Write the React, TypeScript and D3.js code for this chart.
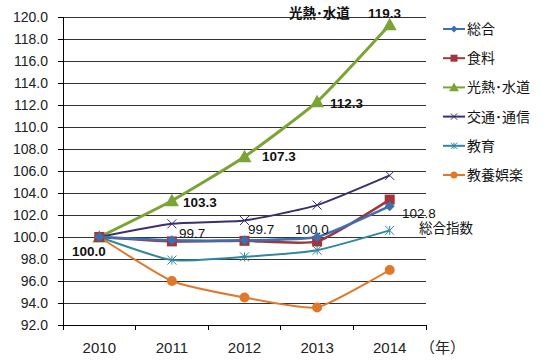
import React, { useEffect, useRef } from 'react';
import * as d3 from 'd3';

const years = ['2010', '2011', '2012', '2013', '2014'];
const yTicks = [92, 94, 96, 98, 100, 102, 104, 106, 108, 110, 112, 114, 116, 118, 120];

const sogo = [100.0, 99.7, 99.7, 100.0, 102.8];
const shokuryo = [100.0, 99.6, 99.65, 99.6, 103.4];
const kounetsu = [100.0, 103.3, 107.3, 112.3, 119.3];
const koutsu = [100.0, 101.2, 101.5, 102.9, 105.6];
const kyouiku = [100.0, 97.9, 98.2, 98.8, 100.6];
const kyouyou = [100.0, 96.0, 94.5, 93.6, 97.0];

const seriesNames = ['総合', '食料', '光熱･水道', '交通･通信', '教育', '教養娯楽'];

const FONT = '"Liberation Sans", Arial, "Noto Sans CJK JP", sans-serif';

type Series = { name: string; values: number[]; color: string; marker: string; width: number };

const series: Series[] = [
  { name: seriesNames[2], values: kounetsu, color: '#7aa534', marker: 'triangle', width: 3 },
  { name: seriesNames[3], values: koutsu, color: '#3d2f6e', marker: 'x', width: 2 },
  { name: seriesNames[4], values: kyouiku, color: '#2f889e', marker: 'star', width: 2 },
  { name: seriesNames[5], values: kyouyou, color: '#e0782c', marker: 'circle', width: 2 },
  { name: seriesNames[1], values: shokuryo, color: '#a2373a', marker: 'square', width: 2.5 },
  { name: seriesNames[0], values: sogo, color: '#3b70b3', marker: 'diamond', width: 2.5 },
];
const legendOrder = [5, 4, 0, 1, 2, 3];

function drawMarker(g: d3.Selection<SVGGElement, unknown, null, undefined>, type: string, x: number, y: number, color: string, scale = 1) {
  if (type === 'circle') {
    g.append('circle').attr('cx', x).attr('cy', y).attr('r', 5 * scale).attr('fill', color);
  } else if (type === 'square') {
    const s = 10 * scale;
    g.append('rect').attr('x', x - s / 2).attr('y', y - s / 2).attr('width', s).attr('height', s).attr('fill', color);
  } else if (type === 'diamond') {
    const s = 5 * scale;
    g.append('path').attr('d', `M${x},${y - s}L${x + s},${y}L${x},${y + s}L${x - s},${y}Z`).attr('fill', color);
  } else if (type === 'triangle') {
    const s = 7 * scale;
    g.append('path').attr('d', `M${x},${y - s}L${x + s},${y + s * 0.8}L${x - s},${y + s * 0.8}Z`).attr('fill', color);
  } else if (type === 'x') {
    const s = 4.5 * scale;
    g.append('path').attr('d', `M${x - s},${y - s}L${x + s},${y + s}M${x - s},${y + s}L${x + s},${y - s}`)
      .attr('stroke', color).attr('stroke-width', 1);
  } else if (type === 'star') {
    const s = 4.5 * scale;
    g.append('path').attr('d', `M${x - s},${y - s}L${x + s},${y + s}M${x - s},${y + s}L${x + s},${y - s}M${x},${y - s}L${x},${y + s}`)
      .attr('stroke', color).attr('stroke-width', 1);
  }
}

const App: React.FC = () => {
  const ref = useRef<SVGSVGElement>(null);

  useEffect(() => {
    if (!ref.current) return;
    const svg = d3.select(ref.current);
    svg.selectAll('*').remove();

    const margin = { top: 17, left: 63 };
    const width = 363;
    const height = 308;

    const g = svg.append('g').attr('transform', `translate(${margin.left},${margin.top})`);

    const x = d3.scaleBand().domain(years).range([0, width]);
    const y = d3.scaleLinear().domain([92, 120]).range([height, 0]);
    const cx = (i: number) => (x(years[i]) || 0) + x.bandwidth() / 2;

    // gridlines
    g.selectAll('.grid')
      .data(yTicks.slice(1))
      .enter().append('line')
      .attr('x1', -5).attr('x2', width)
      .attr('y1', d => y(d)).attr('y2', d => y(d))
      .attr('stroke', '#333').attr('stroke-width', 1)
      .attr('shape-rendering', 'crispEdges');

    // y axis
    const yAxis = g.append('g')
      .call(d3.axisLeft(y).tickValues(yTicks).tickFormat(d3.format('.1f')).tickSize(5).tickPadding(10));
    yAxis.selectAll('path, line').attr('stroke', '#000').attr('shape-rendering', 'crispEdges');
    yAxis.selectAll('text').style('font-size', '14px').style('font-family', FONT).attr('fill', '#222');

    // x axis
    g.append('line').attr('x1', -5).attr('x2', width).attr('y1', height).attr('y2', height)
      .attr('stroke', '#000').attr('shape-rendering', 'crispEdges');
    const bounds = years.map((yr) => x(yr) || 0).concat([width]);
    g.selectAll('.xtick').data(bounds).enter().append('line')
      .attr('x1', d => d).attr('x2', d => d).attr('y1', height).attr('y2', height + 5)
      .attr('stroke', '#000').attr('shape-rendering', 'crispEdges');
    g.selectAll('.xlabel').data(years).enter().append('text')
      .attr('x', (d, i) => cx(i)).attr('y', height + 28)
      .attr('text-anchor', 'middle').style('font-size', '15px').style('font-family', FONT).attr('fill', '#222')
      .text(d => d);
    g.append('text').attr('x', width - 6).attr('y', height + 28)
      .style('font-size', '15px').style('font-family', FONT).attr('fill', '#222').text('（年）');

    // lines (lightly smoothed)
    const line = d3.line<number>()
      .x((d, i) => cx(i))
      .y(d => y(d))
      .curve(d3.curveCardinal.tension(0.5));

    series.forEach(s => {
      g.append('path').datum(s.values).attr('d', line)
        .attr('fill', 'none').attr('stroke', s.color).attr('stroke-width', s.width);
    });
    series.forEach(s => {
      const mg = g.append('g');
      s.values.forEach((v, i) => drawMarker(mg, s.marker, cx(i), y(v), s.color));
    });

    // data labels
    const lbl = (tx: number, ty: number, text: string, bold: boolean) =>
      svg.append('text').attr('x', tx).attr('y', ty)
        .style('font-size', '13.5px').style('font-family', FONT)
        .style('font-weight', bold ? 'bold' : 'normal').attr('fill', '#111').text(text);

    lbl(72, 256, d3.format('.1f')(kounetsu[0]), true);
    lbl(183, 207, d3.format('.1f')(kounetsu[1]), true);
    lbl(262, 161, d3.format('.1f')(kounetsu[2]), true);
    lbl(330, 108, d3.format('.1f')(kounetsu[3]), true);
    lbl(368, 18, d3.format('.1f')(kounetsu[4]), true);
    lbl(289, 18, seriesNames[2], true);

    lbl(179, 238, d3.format('.1f')(sogo[1]), false);
    lbl(248, 234, d3.format('.1f')(sogo[2]), false);
    lbl(295, 234, d3.format('.1f')(sogo[3]), false);
    lbl(402, 218, d3.format('.1f')(sogo[4]), false);
    lbl(419, 233, '総合指数', false);

    // legend
    legendOrder.forEach((si, k) => {
      const s = series[si];
      const ly = 29 + k * 29.2;
      const lg = svg.append('g');
      lg.append('line').attr('x1', 443).attr('x2', 465).attr('y1', ly).attr('y2', ly)
        .attr('stroke', s.color).attr('stroke-width', 2);
      drawMarker(lg, s.marker, 454, ly, s.color, 0.7);
      lg.append('text').attr('x', 467).attr('y', ly + 5)
        .style('font-size', '14px').style('font-family', FONT).attr('fill', '#111').text(s.name);
    });
  }, []);

  return (
    <svg ref={ref} width={543} height={362}
      style={{ position: 'absolute', left: 0, top: 0, background: '#fff' }} />
  );
};

export default App;
